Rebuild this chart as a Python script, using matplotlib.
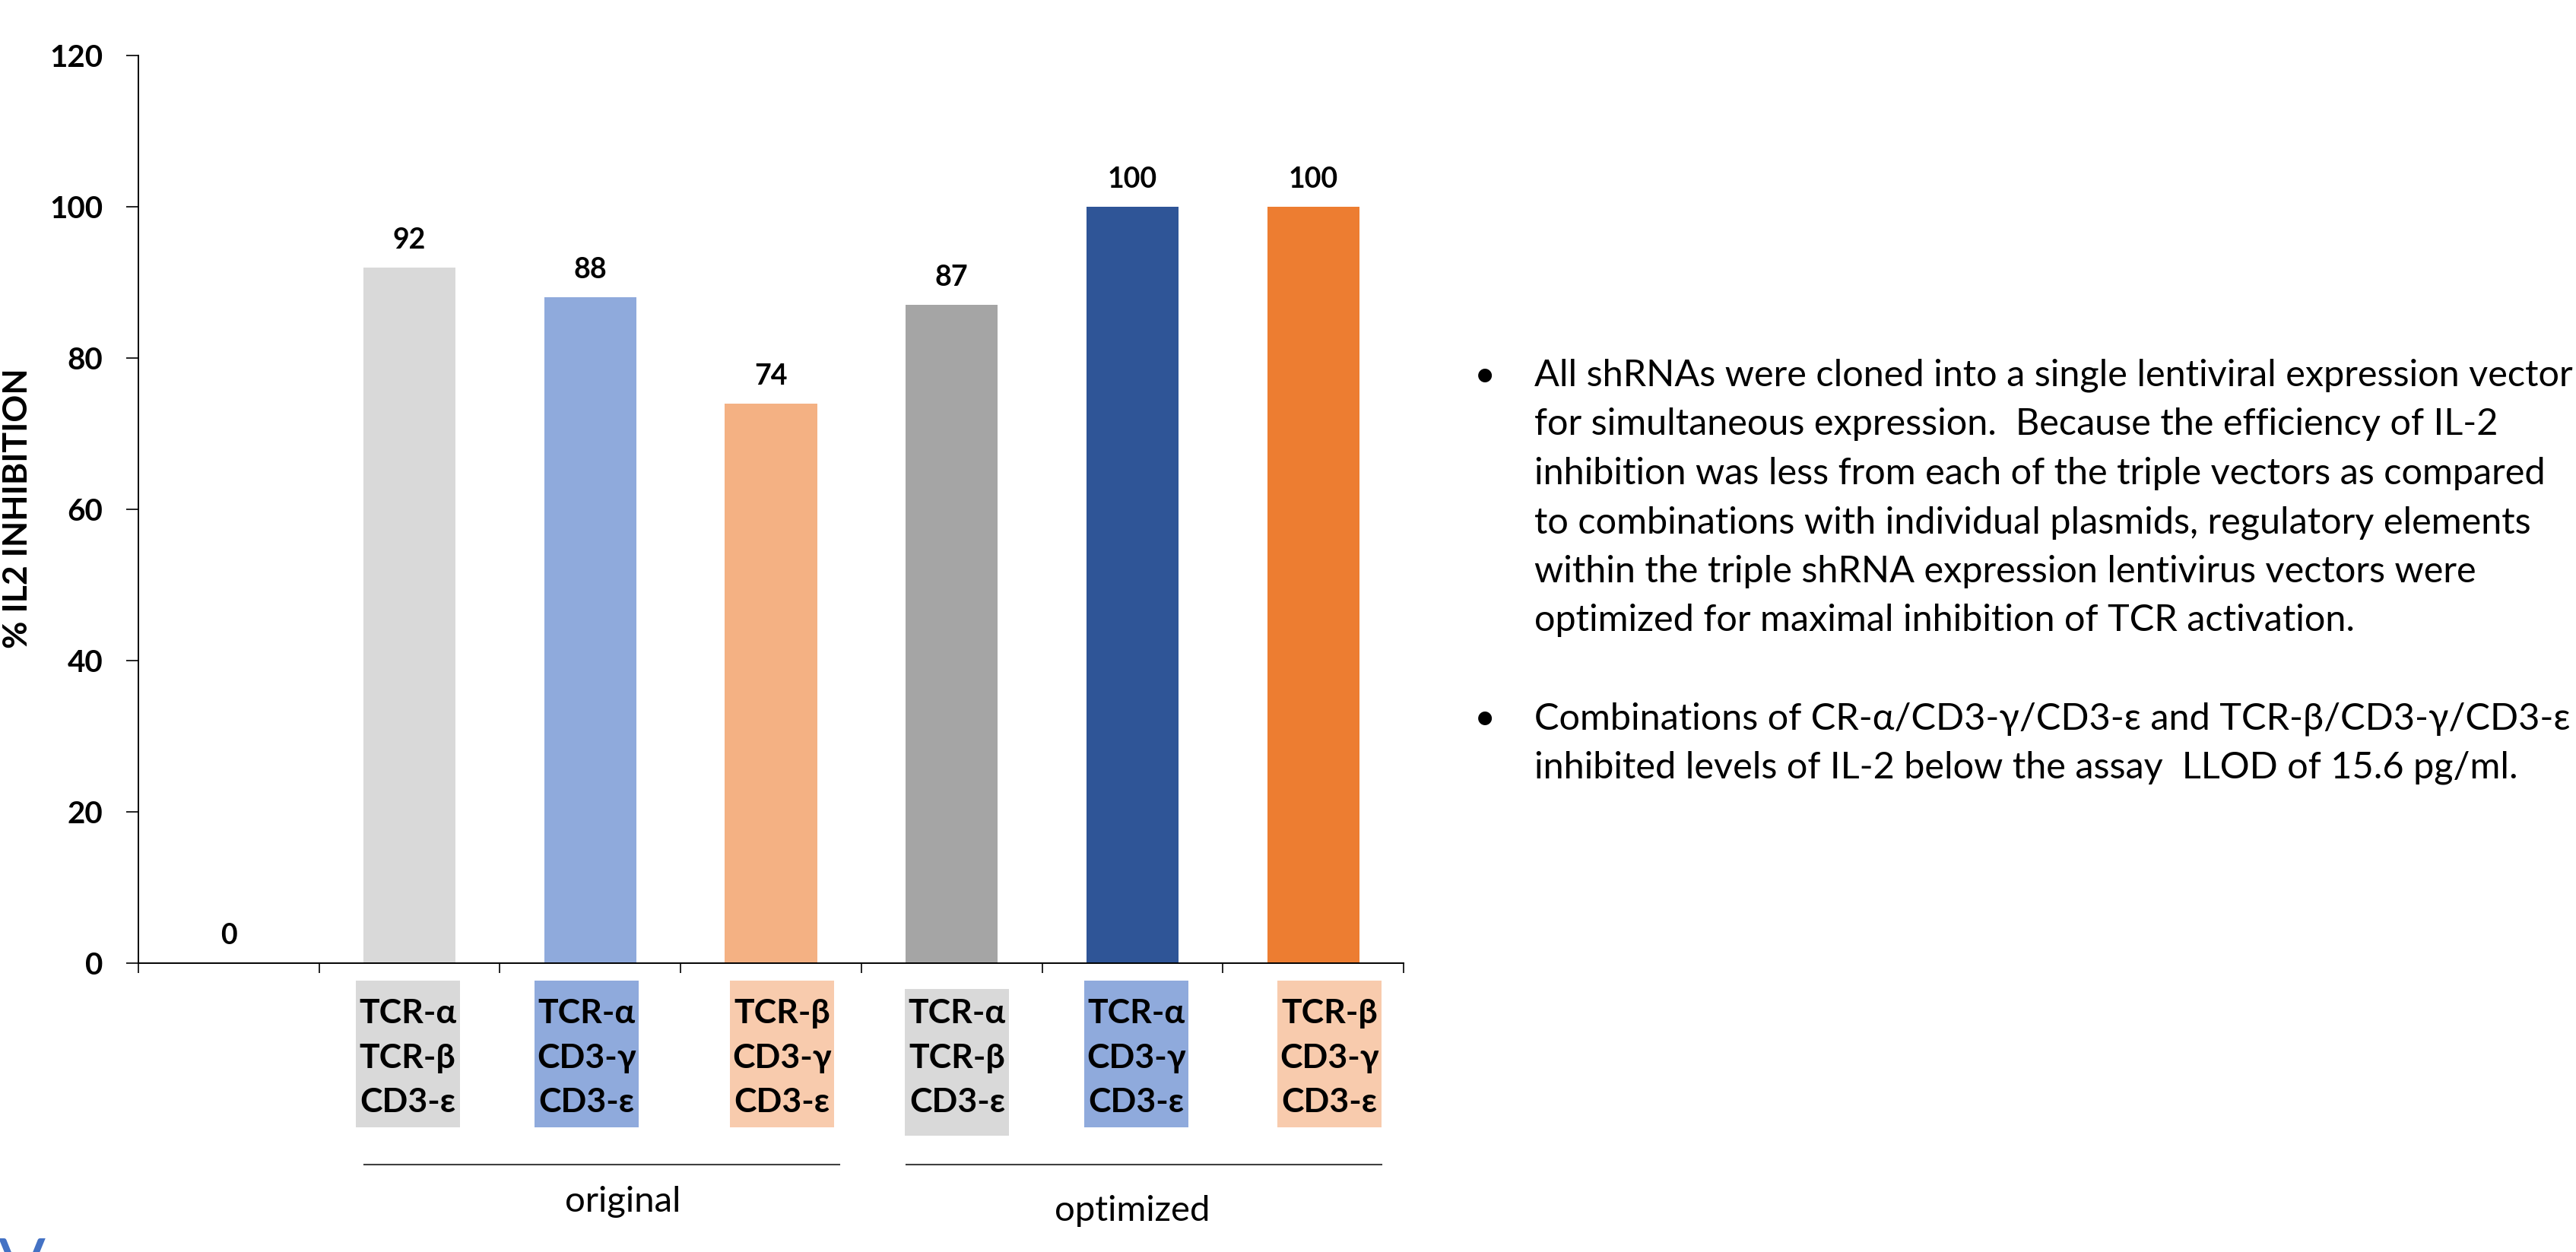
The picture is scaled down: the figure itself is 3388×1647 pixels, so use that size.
import matplotlib.pyplot as plt
from matplotlib.patches import Rectangle
from matplotlib.transforms import blended_transform_factory

plt.rcParams['font.family'] = ['Lato', 'Liberation Serif']

# % IL-2 inhibition for each shRNA combination
labels = ['',
          'TCR-α\nTCR-β\nCD3-ε', 'TCR-α\nCD3-γ\nCD3-ε', 'TCR-β\nCD3-γ\nCD3-ε',
          'TCR-α\nTCR-β\nCD3-ε', 'TCR-α\nCD3-γ\nCD3-ε', 'TCR-β\nCD3-γ\nCD3-ε']
inhibition = [0, 92, 88, 74, 87, 100, 100]
groups = ['original', 'optimized']
group_members = [[1, 2, 3], [4, 5, 6]]

bar_colors = ['#FFFFFF', '#D9D9D9', '#8FAADC', '#F4B183', '#A5A5A5', '#2F5597', '#ED7D31']
box_colors = [None, '#D9D9D9', '#8FAADC', '#F8CBAD', '#D9D9D9', '#8FAADC', '#F8CBAD']

notes = [
    ['All shRNAs were cloned into a single lentiviral expression vector',
     'for simultaneous expression.  Because the efficiency of IL-2',
     'inhibition was less from each of the triple vectors as compared',
     'to combinations with individual plasmids, regulatory elements',
     'within the triple shRNA expression lentivirus vectors were',
     'optimized for maximal inhibition of TCR activation.'],
    ['Combinations of CR-α/CD3-γ/CD3-ε and TCR-β/CD3-γ/CD3-ε',
     'inhibited levels of IL-2 below the assay  LLOD of 15.6 pg/ml.'],
]

W, H = 3388, 1647
fig = plt.figure(figsize=(W / 100, H / 100), dpi=100)
ax = fig.add_axes([182 / W, 1 - 1267 / H, 1664 / W, 1194 / H])

x = list(range(len(inhibition)))
ax.bar(x, inhibition, width=0.51, color=bar_colors)
ax.set_xlim(-0.5, len(x) - 0.5)
ax.set_ylim(0, 120)
ax.set_yticks(range(0, 121, 20))
ax.set_xticks([i - 0.5 for i in range(len(x) + 1)])
ax.set_xticklabels([])
for s in ['top', 'right']:
    ax.spines[s].set_visible(False)
for s in ['left', 'bottom']:
    ax.spines[s].set_linewidth(1.4)
ax.tick_params(axis='y', length=11.5, width=1.2, pad=22, labelsize=29)
ax.tick_params(axis='x', length=9.5, width=1.2)
for lbl in ax.get_yticklabels():
    lbl.set_fontweight('bold')

for i, v in zip(x, inhibition):
    ax.annotate(str(v), (i, v), xytext=(0, 18), textcoords='offset points',
                ha='center', va='baseline', fontsize=27, fontweight='bold')

fig.text(23.5 / W, 1 - 669 / H, '% IL2 INHIBITION', rotation=90,
         ha='center', va='center', fontsize=32, fontweight='bold')

# coloured label boxes under each bar
trans = blended_transform_factory(ax.transData, ax.transAxes)
box_shift = [0, -0.01, -0.02, 0.06, 0.03, 0.02, 0.09]
box_drop = [0, 0, 0, 0, 0.009, 0, 0]
line_y = [-0.0553, -0.1047, -0.1533]
for i in x:
    if box_colors[i] is None:
        continue
    cx = i + box_shift[i]
    top = -0.0193 - box_drop[i]
    ax.add_patch(Rectangle((cx - 0.288, top - 0.162), 0.576, 0.162,
                           transform=trans, clip_on=False,
                           facecolor=box_colors[i], edgecolor='none'))
    for j, line in enumerate(labels[i].split('\n')):
        ax.text(cx, line_y[j], line, transform=trans, ha='center', va='center',
                fontsize=32, fontweight='bold')

# group brackets
group_shift = [0.18, 0.0]
group_base = [-0.2739, -0.2839]
for g, members, dx, yb in zip(groups, group_members, group_shift, group_base):
    ax.plot([min(members) - 0.25, max(members) + 0.38], [-0.222, -0.222],
            transform=trans, clip_on=False, color='#404040', lw=1.5)
    ax.text(sum(members) / len(members) + dx, yb, g, transform=trans,
            ha='center', va='baseline', fontsize=34)

# bullet notes on the right
baseline = 508
for k, para in enumerate(notes):
    if k > 0:
        baseline += 64.5
    for j, line in enumerate(para):
        y = 1 - (baseline + 64.5 * j) / H
        if j == 0:
            fig.text(1953 / W, y, '•', ha='center', va='baseline', fontsize=35)
        fig.text(2018 / W, y, line, ha='left', va='baseline', fontsize=35)
    baseline += 64.5 * len(para)

fig.text(-2 / W, 1 - 1627 / H, 'V', ha='left', va='top', fontsize=66,
         color='#4472C4')

fig.savefig('out.png', dpi=100)
